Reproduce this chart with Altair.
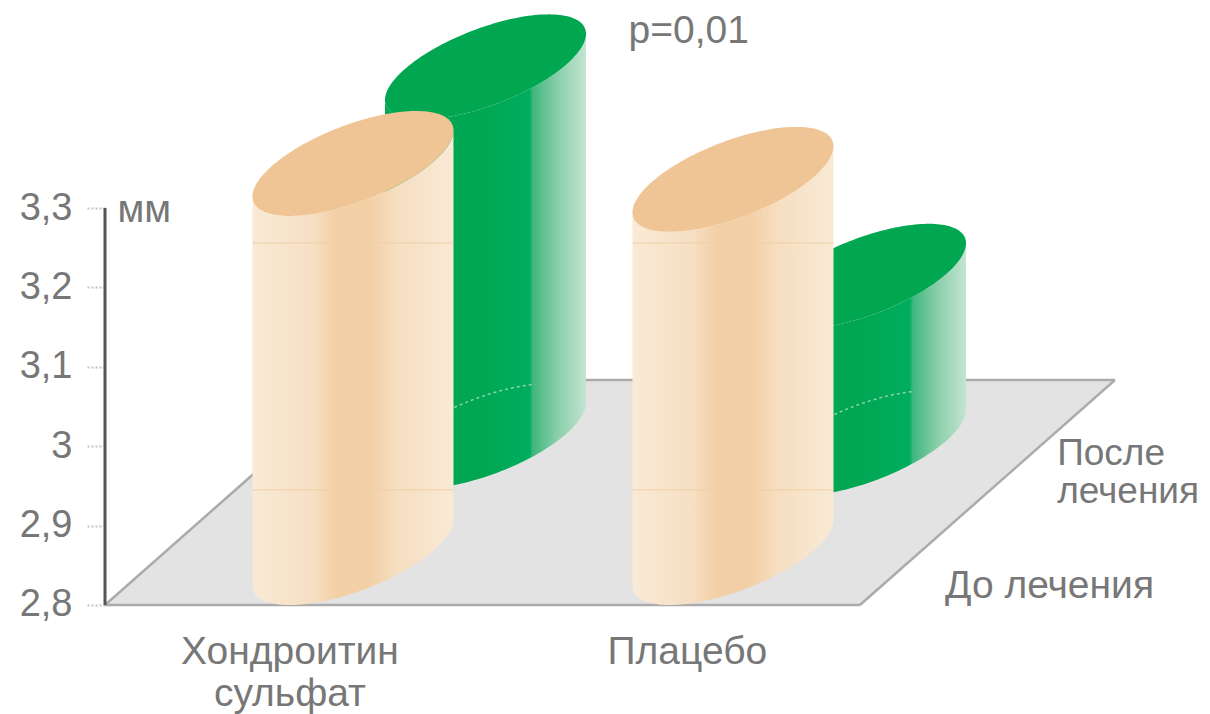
import altair as alt
import numpy as np
import pandas as pd

# Joint-space measurements, mm
groups = ["Хондроитин сульфат", "Плацебо"]
before = [3.29, 3.27]
after = [3.265, 3.01]
y_ticks = [2.8, 2.9, 3.0, 3.1, 3.2, 3.3]

# Oblique projection of the floor. x is in group units, y in value units.
LEFT, RIGHT = -0.6526, 2.2553
Y_MIN, Y_MAX = 2.6627, 3.562
W, H = 1105, 714
RADIUS_X, RADIUS_Y = 0.2645, 0.0661
PHASE = np.radians(39)
DEPTH_X = 0.3487
FLOOR = 2.8
FLOOR_BACK = 3.0834
FLOOR_X = [-0.6526, 1.3342]
FLOOR_SHEAR = 0.671
BASE_FRONT = 2.8661
BASE_BACK = [3.0128, 3.004]

x_enc = alt.X("x:Q", scale=alt.Scale(domain=[LEFT, RIGHT]), axis=None)
# Every layer shares the one value axis
y_enc = alt.Y(
    "y:Q",
    scale=alt.Scale(domain=[Y_MIN, Y_MAX]),
    axis=alt.Axis(
        values=y_ticks,
        labelExpr="replace(format(datum.value, '~g'), '.', ',')",
        labelFont="Liberation Sans",
        labelFontSize=38,
        labelColor="#777777",
        labelPadding=13,
        labelOverlap=False,
        tickSize=20,
        tickWidth=2,
        tickColor="#c4c4c4",
        tickDash=[2, 2],
        domain=False,
        grid=False,
        title=None,
    ),
)


def gradient(stops):
    return alt.LinearGradient(
        gradient="linear",
        x1=0, x2=1, y1=0, y2=0,
        stops=[alt.GradientStop(offset=o, color=c) for o, c in stops],
    )


ORANGE_BODY = gradient([
    (0, "#F9EAD6"), (0.3, "#F6DFC3"), (0.42, "#F3CFA5"), (0.58, "#F3CFA5"),
    (0.72, "#F6DEC0"), (1, "#F9EAD6"),
])
GREEN_BODY = gradient([
    (0, "#00A650"), (0.45, "#00A651"), (0.72, "#00AD5E"), (0.735, "#3FB67F"),
    (0.85, "#85CDA6"), (1, "#C4E4D2"),
])
ORANGE_CAP = "#F0C595"
GREEN_CAP = "#00A650"

angles = np.linspace(np.pi, 0, 90)


def arcs(center, level):
    """Upper and lower rim of the ellipse at one height."""
    return pd.DataFrame({
        "x": center + RADIUS_X * np.cos(angles),
        "y": level + RADIUS_Y * np.sin(angles + PHASE),
        "y2": level + RADIUS_Y * np.sin(-angles + PHASE),
    })


def cylinder(center, base, value, body, cap):
    top = base + value - FLOOR
    upper = arcs(center, top)
    lower = arcs(center, base)
    side = pd.DataFrame({"x": lower["x"], "y": lower["y2"], "y2": upper["y2"]})
    return [
        alt.Chart(side).mark_area(color=body, line=False).encode(x=x_enc, y=y_enc, y2="y2:Q"),
        alt.Chart(upper).mark_area(color=cap, line=False).encode(x=x_enc, y=y_enc, y2="y2:Q"),
    ]


# Floor parallelogram
fx0, fx1 = FLOOR_X
floor = pd.DataFrame({
    "x": [fx0, fx0 + FLOOR_SHEAR, fx1, fx1 + FLOOR_SHEAR],
    "y": [FLOOR, FLOOR, FLOOR, FLOOR_BACK],
    "y2": [FLOOR, FLOOR_BACK, FLOOR_BACK, FLOOR_BACK],
})
floor_edges = pd.DataFrame({
    "x": [fx0, fx1, fx0, fx0 + FLOOR_SHEAR],
    "x2": [fx1, fx1 + FLOOR_SHEAR, fx0 + FLOOR_SHEAR, fx1 + FLOOR_SHEAR],
    "y": [FLOOR, FLOOR, FLOOR, FLOOR_BACK],
    "y2": [FLOOR, FLOOR_BACK, FLOOR_BACK, FLOOR_BACK],
})

layers = [
    alt.Chart(floor).mark_area(color="#E3E3E3", line=False).encode(x=x_enc, y=y_enc, y2="y2:Q"),
    alt.Chart(floor_edges).mark_rule(color="#ABABAB", strokeWidth=2.5).encode(
        x=x_enc, x2="x2:Q", y=y_enc, y2="y2:Q"
    ),
]

# Back row first, so the front row overlaps it
for i in range(2):
    center = i + DEPTH_X
    layers += cylinder(center, BASE_BACK[i], after[i], GREEN_BODY, GREEN_CAP)
    rim = arcs(center, BASE_BACK[i])
    rim = rim[rim["x"] < center + 0.13]
    layers.append(
        alt.Chart(rim).mark_line(color="#8AD6AC", strokeWidth=1.5, strokeDash=[3, 3]).encode(x=x_enc, y=y_enc)
    )

for i in range(2):
    layers += cylinder(i, BASE_FRONT, before[i], ORANGE_BODY, ORANGE_CAP)

# Thin lines crossing the front cylinders
band_levels = [3.256, 2.945]
bands = pd.DataFrame([
    {"x": i - RADIUS_X, "x2": i + RADIUS_X, "y": level}
    for i in range(2) for level in band_levels
])
layers.append(
    alt.Chart(bands).mark_rule(color="#F0CFA6", strokeWidth=1).encode(x=x_enc, x2="x2:Q", y=y_enc)
)

# Value axis line
layers.append(
    alt.Chart(pd.DataFrame({"y": [2.8], "y2": [3.3]})).mark_rule(color="#555555", strokeWidth=3).encode(
        x=alt.value(0), y=y_enc, y2="y2:Q"
    )
)

# Annotations and category labels
center_labels = pd.DataFrame({
    "text": ["Хондроитин", "сульфат", "Плацебо"],
    "x": [-0.166, -0.166, 0.88],
    "y": [2.741, 2.688, 2.741],
})
left_labels = pd.DataFrame({
    "text": ["До лечения", "p=0,01", "мм"],
    "x": [1.558, 0.725, -0.62],
    "y": [2.8235, 3.523, 3.297],
})
depth_labels = pd.DataFrame({
    "text": ["После", "лечения"],
    "x": [1.853, 1.853],
    "y": [2.99, 2.942],
})
for frame, align, size in (
    (center_labels, "center", 39),
    (left_labels, "left", 39),
    (depth_labels, "left", 37),
):
    layers.append(
        alt.Chart(frame).mark_text(
            align=align, baseline="middle", font="Liberation Sans", fontSize=size, color="#777777"
        ).encode(x=x_enc, y=y_enc, text="text:N")
    )

chart = (
    alt.layer(*layers)
    .properties(
        width=W,
        height=H,
        autosize=alt.AutoSizeParams(type="none"),
        padding={"left": 105, "right": 0, "top": 0, "bottom": 0},
        background="white",
    )
    .configure_view(stroke=None)
)

chart.save("out.html", embed_options={"renderer": "svg", "actions": False})
